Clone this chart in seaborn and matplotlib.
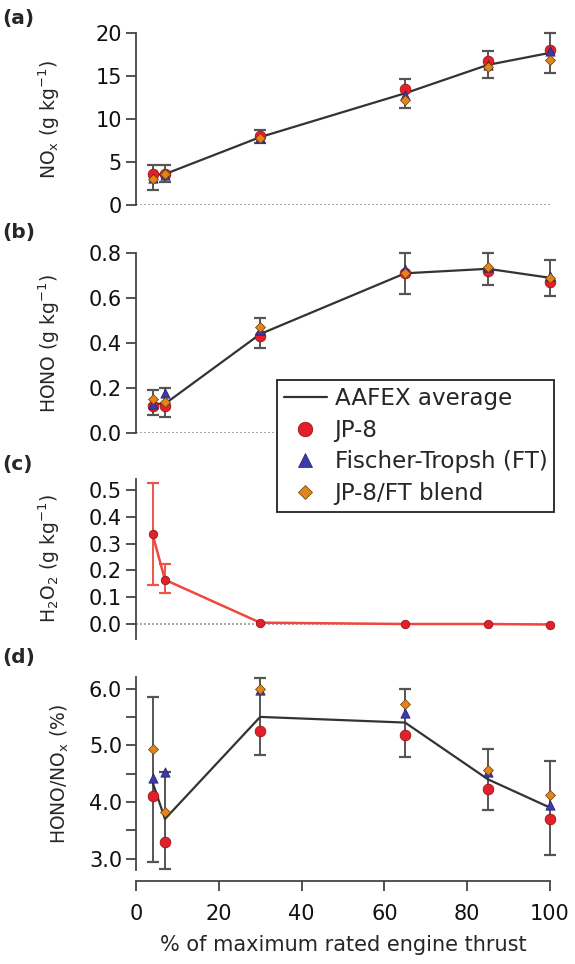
import numpy as np
import pandas as pd
import matplotlib
matplotlib.use("Agg")
import matplotlib.pyplot as plt
from matplotlib.lines import Line2D
from matplotlib.ticker import MultipleLocator, FormatStrFormatter
import seaborn as sns

# Datos (empuje del motor en %).
thrust = [4, 7, 30, 65, 85, 100]

# (a) NOx (g/kg)
nox_avg = [3.5, 3.6, 7.9, 13.0, 16.3, 17.7]
nox_jp8 = [3.6, 3.6, 8.0, 13.5, 16.8, 18.0]
nox_ft = [3.2, 3.5, 7.8, 12.8, 16.3, 17.9]
nox_blend = [3.0, 3.6, 7.8, 12.2, 16.0, 16.9]
nox_lo = [1.7, 2.7, 7.2, 11.3, 14.8, 15.3]
nox_hi = [4.7, 4.6, 8.7, 14.7, 17.9, 20.0]

# (b) HONO (g/kg)
hono_avg = [0.13, 0.13, 0.44, 0.71, 0.73, 0.69]
hono_jp8 = [0.12, 0.12, 0.43, 0.71, 0.72, 0.67]
hono_ft = [0.13, 0.18, 0.46, 0.73, 0.74, 0.70]
hono_blend = [0.15, 0.14, 0.47, 0.71, 0.74, 0.69]
hono_lo = [0.08, 0.07, 0.38, 0.62, 0.66, 0.61]
hono_hi = [0.19, 0.20, 0.51, 0.80, 0.80, 0.77]

# (c) H2O2 (g/kg), solo JP-8
h2o2_jp8 = [0.335, 0.165, 0.005, 0.0, 0.0, -0.002]
h2o2_lo = [0.145, 0.115, np.nan, np.nan, np.nan, np.nan]
h2o2_hi = [0.525, 0.225, np.nan, np.nan, np.nan, np.nan]

# (d) HONO/NOx (%)
ratio_avg = [4.35, 3.7, 5.5, 5.4, 4.4, 3.9]
ratio_jp8 = [4.1, 3.3, 5.25, 5.18, 4.22, 3.7]
ratio_ft = [4.42, 4.53, 5.97, 5.57, 4.52, 3.95]
ratio_blend = [4.93, 3.83, 6.0, 5.73, 4.57, 4.12]
ratio_lo = [2.95, 2.82, 4.83, 4.8, 3.85, 3.07]
ratio_hi = [5.85, 4.52, 6.18, 6.0, 4.93, 4.72]

fuel_names = ["JP-8", "Fischer-Tropsh (FT)", "JP-8/FT blend"]

RED = "#e3202a"
BLUE = "#3a3aa8"
ORANGE = "#e0841c"
LINE = "#333333"
ERR = "#555555"

sns.set_style("ticks")
plt.rcParams["font.family"] = ["DejaVu Sans"]
plt.rcParams["mathtext.default"] = "regular"
plt.rcParams.update({
    "xtick.labelsize": 15,
    "ytick.labelsize": 15,
    "axes.linewidth": 1.3,
    "axes.edgecolor": "#444444",
    "xtick.color": "#444444",
    "ytick.color": "#444444",
    "xtick.labelcolor": "#111111",
    "ytick.labelcolor": "#111111",
})

fig = plt.figure(figsize=(5.75, 9.64), dpi=100)

left, width = 136 / 575, 414 / 575
ax_a = fig.add_axes([left, 0.7873, width, 0.1784])
ax_b = fig.add_axes([left, 0.5508, width, 0.1867])
ax_c = fig.add_axes([left, 0.3374, width, 0.1654])
ax_d = fig.add_axes([left, 0.0975, width, 0.2000])


def panel(ax, avg, jp8, ft, blend, lo, hi):
    df = pd.DataFrame({"thrust": thrust, "avg": avg})
    lo = np.array(lo)
    hi = np.array(hi)
    a = np.array(avg)
    ax.errorbar(thrust, avg, yerr=[a - lo, hi - a], fmt="none", ecolor=ERR,
                elinewidth=1.4, capsize=4, capthick=1.6, zorder=2, clip_on=False)
    sns.lineplot(data=df, x="thrust", y="avg", ax=ax, color=LINE, linewidth=1.6,
                 zorder=3, legend=False)
    sets = [(jp8, "o", RED, 60, "#8a1010"), (ft, "^", BLUE, 45, "#20206a"),
            (blend, "D", ORANGE, 26, "#6a3a08")]
    for vals, mk, col, size, ec in sets:
        d = pd.DataFrame({"thrust": thrust, "v": vals})
        sns.scatterplot(data=d, x="thrust", y="v", ax=ax, marker=mk, color=col,
                        s=size, edgecolor=ec, linewidth=0.5, zorder=4,
                        clip_on=False, legend=False)


panel(ax_a, nox_avg, nox_jp8, nox_ft, nox_blend, nox_lo, nox_hi)
panel(ax_b, hono_avg, hono_jp8, hono_ft, hono_blend, hono_lo, hono_hi)
panel(ax_d, ratio_avg, ratio_jp8, ratio_ft, ratio_blend, ratio_lo, ratio_hi)

# Panel c: solo JP-8
c = np.array(h2o2_jp8)
ax_c.errorbar(thrust, h2o2_jp8, yerr=[c - np.array(h2o2_lo), np.array(h2o2_hi) - c],
              fmt="none", ecolor="#ee5548", elinewidth=1.4, capsize=4, capthick=1.6,
              zorder=2, clip_on=False)
df_c = pd.DataFrame({"thrust": thrust, "v": h2o2_jp8})
sns.lineplot(data=df_c, x="thrust", y="v", ax=ax_c, color="#f0473e", linewidth=1.8,
             zorder=3, legend=False)
sns.scatterplot(data=df_c, x="thrust", y="v", ax=ax_c, marker="o", color=RED, s=38,
                edgecolor="#8a1010", linewidth=0.5, zorder=4, clip_on=False, legend=False)

limits = [(ax_a, (0, 20)), (ax_b, (0, 0.8)), (ax_c, (-0.055, 0.54)), (ax_d, (2.8, 6.2))]
for ax, lim in limits:
    ax.set_xlim(0, 100)
    ax.set_ylim(*lim)
    ax.set_xlabel("")
    sns.despine(ax=ax)
    ax.tick_params(axis="y", direction="out", length=7, width=1.3, pad=3)
    ax.patch.set_alpha(0)

for ax in (ax_a, ax_b, ax_c):
    ax.spines["bottom"].set_visible(False)
    ax.set_xticks([])
    ax.axhline(0, color="#999999", linestyle=(0, (1.2, 1.2)), linewidth=1.2, zorder=1)

ax_a.yaxis.set_major_locator(MultipleLocator(5))
ax_a.yaxis.set_major_formatter(FormatStrFormatter("%d"))
ax_b.set_yticks([0.0, 0.2, 0.4, 0.6, 0.8])
ax_b.yaxis.set_major_formatter(FormatStrFormatter("%.1f"))
ax_c.set_yticks([0.0, 0.1, 0.2, 0.3, 0.4, 0.5])
ax_c.yaxis.set_major_formatter(FormatStrFormatter("%.1f"))
ax_d.set_yticks([3.0, 4.0, 5.0, 6.0])
ax_d.yaxis.set_major_formatter(FormatStrFormatter("%.1f"))
ax_d.yaxis.set_minor_locator(MultipleLocator(0.5))
ax_d.tick_params(axis="y", which="minor", direction="out", length=7, width=1.3)

ax_d.spines["bottom"].set_position(("outward", 8))
ax_d.set_xticks([0, 20, 40, 60, 80, 100])
ax_d.tick_params(axis="x", direction="out", length=7.5, width=1.3, pad=9)
ax_d.set_xlabel("% of maximum rated engine thrust", fontsize=15, labelpad=8)

ylabels = [(ax_a, r"NO$_x$ (g kg$^{-1}$)", -0.178),
           (ax_b, r"HONO (g kg$^{-1}$)", -0.178),
           (ax_c, r"H$_2$O$_2$ (g kg$^{-1}$)", -0.178),
           (ax_d, r"HONO/NO$_x$ (%)", -0.158)]
for ax, txt, xpos in ylabels:
    ax.set_ylabel(txt, fontsize=13.5)
    ax.yaxis.set_label_coords(xpos, 0.5)

for txt, y in [("(a)", 0.981), ("(b)", 0.759), ("(c)", 0.518), ("(d)", 0.318)]:
    fig.text(0.004, y, txt, fontsize=14.5, fontweight="bold", va="center", ha="left")

handles = [
    Line2D([], [], color=LINE, linewidth=1.6),
    Line2D([], [], marker="o", linestyle="none", color=RED, markersize=10.5,
           markeredgecolor="#8a1010", markeredgewidth=0.5),
    Line2D([], [], marker="^", linestyle="none", color=BLUE, markersize=9.5,
           markeredgecolor="#20206a", markeredgewidth=0.5),
    Line2D([], [], marker="D", linestyle="none", color=ORANGE, markersize=7.5,
           markeredgecolor="#6a3a08", markeredgewidth=0.5),
]
leg = fig.legend(handles, ["AAFEX average"] + fuel_names, loc="upper left",
                 bbox_to_anchor=(277 / 575, 1 - 380 / 964), borderaxespad=0,
                 fontsize=16.6, frameon=True, fancybox=False, framealpha=1,
                 edgecolor="#222222", handlelength=1.85, handletextpad=0.35,
                 labelspacing=0.38, borderpad=0.3)
leg.get_frame().set_linewidth(1.3)

fig.savefig("out.png", dpi=100)
